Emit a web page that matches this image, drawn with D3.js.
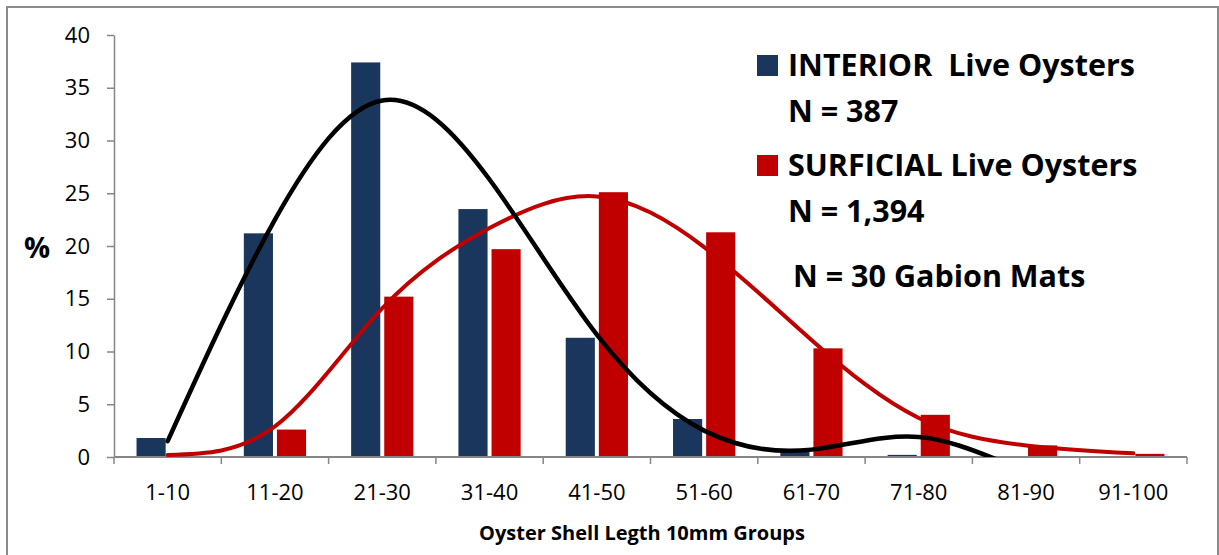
<!DOCTYPE html>
<html>
<head>
<meta charset="utf-8">
<script src="https://cdn.jsdelivr.net/npm/d3@7"></script>
<style>
  html, body { margin: 0; padding: 0; background: #fff; }
  svg { display: block; }
  text { font-family: "Open Sans", Lato, sans-serif; fill: #000; }
</style>
</head>
<body>
<svg id="chart" width="1219" height="555"></svg>
<script>
const categories = ["1-10","11-20","21-30","31-40","41-50","51-60","61-70","71-80","81-90","91-100"];
const interiorValues = [1.8, 21.2, 37.4, 23.5, 11.3, 3.6, 0.7, 0.2, 0, 0];
const surficialValues = [0, 2.6, 15.2, 19.7, 25.1, 21.3, 10.3, 4.0, 1.1, 0.3];
const interiorFit = [1.5, 22.5, 33.8, 26.3, 11.6, 2.5, 0.7, 1.9, -1.3, -4];
const surficialFit = [0.2, 2.9, 14.1, 21.7, 24.7, 19.9, 11.1, 3.7, 1.1, 0.35];
const yTicks = [0, 5, 10, 15, 20, 25, 30, 35, 40];
const legendLines = [
  { key: "interior", label: "INTERIOR\u00a0 Live Oysters", sub: "N = 387" },
  { key: "surficial", label: "SURFICIAL Live Oysters", sub: "N = 1,394" }
];
const noteText = "N = 30 Gabion Mats";
const xTitle = "Oyster Shell Legth 10mm Groups";
const yTitle = "%";

const colors = { interior: "#1a365d", surficial: "#c00000" };
const fitColors = { interior: "#000000", surficial: "#c00000" };

const svg = d3.select("#chart");
const L = 114, R = 1187, T = 35, B = 457;

svg.append("rect").attr("x", 7).attr("y", 7).attr("width", 1211).attr("height", 600)
  .attr("fill", "none").attr("stroke", "#8c8c8c").attr("stroke-width", 2);

const x = d3.scaleBand().domain(categories).range([L, R]).padding(0);
const bw = x.bandwidth();
const xSub = d3.scaleBand().domain(["interior", "surficial"])
  .range([bw * 0.21, bw * 0.79]).paddingInner(0.12);
const y = d3.scaleLinear().domain([0, 40]).range([B, T]);

const axisColor = "#868686";

const series = [
  { key: "interior", values: interiorValues },
  { key: "surficial", values: surficialValues }
];
series.forEach(s => {
  svg.append("g").selectAll("rect").data(s.values).join("rect")
    .attr("x", (d, i) => x(categories[i]) + xSub(s.key))
    .attr("y", d => y(d))
    .attr("width", xSub.bandwidth())
    .attr("height", d => y(0) - y(d))
    .attr("fill", colors[s.key]);
});

const yAxis = d3.axisLeft(y).tickValues(yTicks).tickSize(7).tickSizeOuter(0).tickPadding(17);
const gy = svg.append("g").attr("transform", `translate(${L},0)`).call(yAxis);
gy.select(".domain").attr("stroke", axisColor).attr("stroke-width", 1.5);
gy.selectAll(".tick line").attr("stroke", axisColor).attr("stroke-width", 1.5);
gy.selectAll(".tick text").attr("font-size", 22).attr("font-family", "'Open Sans', sans-serif").attr("fill", "#000");

const gx = svg.append("g");
gx.append("line").attr("x1", L).attr("x2", R).attr("y1", B).attr("y2", B)
  .attr("stroke", axisColor).attr("stroke-width", 2);
const boundaries = categories.map(c => x(c)).concat([x(categories[categories.length - 1]) + bw]);
gx.selectAll("line.tk").data(boundaries).join("line").attr("class", "tk")
  .attr("x1", d => d).attr("x2", d => d).attr("y1", B).attr("y2", B + 7)
  .attr("stroke", axisColor).attr("stroke-width", 1.5);
gx.selectAll("text").data(categories).join("text")
  .attr("x", d => x(d) + bw / 2).attr("y", 500)
  .attr("text-anchor", "middle").attr("font-size", 22).text(d => d);

svg.append("clipPath").attr("id", "plotclip").append("rect")
  .attr("x", L - 5).attr("y", T - 5).attr("width", R - L + 10).attr("height", B - T + 5);
const line = d3.line()
  .x((d, i) => x(categories[i]) + bw / 2)
  .y(d => y(d))
  .curve(d3.curveNatural);
const fits = [
  { key: "surficial", values: surficialFit, w: 4 },
  { key: "interior", values: interiorFit, w: 4.5 }
];
const gFit = svg.append("g").attr("clip-path", "url(#plotclip)");
fits.forEach(f => {
  gFit.append("path").datum(f.values).attr("d", line)
    .attr("fill", "none").attr("stroke", fitColors[f.key]).attr("stroke-width", f.w)
    .attr("stroke-linecap", "round");
});

svg.append("text").attr("x", 642).attr("y", 540).attr("text-anchor", "middle")
  .attr("font-size", 20).attr("font-weight", "bold").text(xTitle);
svg.append("text").attr("x", 37).attr("y", 258).attr("text-anchor", "middle")
  .attr("font-size", 29).attr("font-weight", "bold").text(yTitle);

const lg = svg.append("g");
const legendTop = [55, 155];
legendLines.forEach((l, i) => {
  lg.append("rect").attr("x", 757).attr("y", legendTop[i]).attr("width", 21).attr("height", 21)
    .attr("fill", colors[l.key]);
  lg.append("text").attr("x", 788).attr("y", legendTop[i] + 21).attr("font-size", 30.5)
    .attr("font-weight", "bold").text(l.label);
  lg.append("text").attr("x", 788).attr("y", legendTop[i] + 67).attr("font-size", 30.5)
    .attr("font-weight", "bold").text(l.sub);
});
lg.append("text").attr("x", 793).attr("y", 287).attr("font-size", 30.5)
  .attr("font-weight", "bold").text(noteText);
</script>
</body>
</html>
